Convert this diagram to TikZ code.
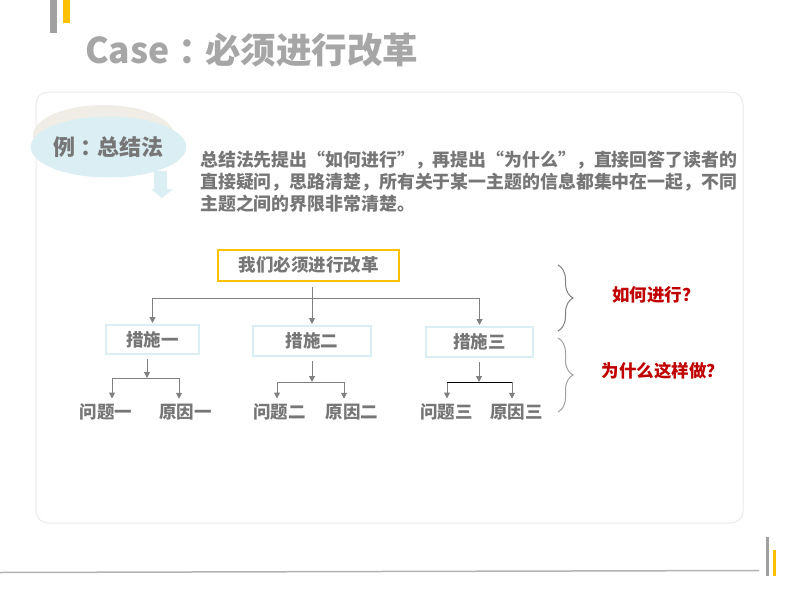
\documentclass[tikz,border=0pt]{standalone}
\usepackage{fontspec}
\setmainfont{Noto Sans CJK SC}
\usetikzlibrary{arrows.meta,shapes.geometric,decorations.pathreplacing,calc}
\definecolor{txtgray}{HTML}{767676}
\definecolor{titlegray}{HTML}{A6A6A6}
\definecolor{bargray}{HTML}{A0A0A0}
\definecolor{yel}{HTML}{FFC000}
\definecolor{lblue}{HTML}{DAEEF3}
\definecolor{boxblue}{HTML}{DAEEF3}
\definecolor{beige}{HTML}{EFEDE5}
\definecolor{panelline}{HTML}{EAEAEA}
\definecolor{lngray}{HTML}{808080}
\definecolor{darkred}{HTML}{C00000}
\begin{document}
\begin{tikzpicture}[x=1pt,y=-1pt,
  txt/.style={font=\bfseries\fontsize{17.5}{21}\selectfont, text=txtgray, inner sep=0pt},
  paratxt/.style={font=\bfseries\fontsize{17.9}{21}\selectfont, text=txtgray, inner sep=0pt, anchor=base west},
  mbox/.style={txt, draw=boxblue, line width=2pt, minimum height=29pt},
  conn/.style={draw=lngray, line width=1pt},
  arr/.style={conn, -{Triangle[length=6pt,width=6pt]}},
  redtxt/.style={font=\bfseries\fontsize{17.5}{21}\selectfont, text=darkred, inner sep=0pt},
  bracestyle/.style={decorate, decoration={brace, amplitude=15pt}, line width=1pt}
]
\useasboundingbox (0,0) rectangle (798,594);
% top-left bars
\fill[bargray] (50,0) rectangle (57,33);
\fill[yel] (63,0) rectangle (70,23);
% title
\node[anchor=west, inner sep=0pt, font=\bfseries\fontsize{35.5}{40}\selectfont, text=titlegray] (title) at (85,50) {Case\kern9pt：\kern-9pt必须进行改革};
% panel
\draw[panelline, line width=1pt, rounded corners=12pt] (36,92) rectangle (743,523);
% ellipse label
\node[ellipse, fill=beige, minimum width=141pt, minimum height=61pt, inner sep=0pt] (esh) at (103.5,135.5) {};
\node[ellipse, fill=lblue, minimum width=141pt, minimum height=61pt, inner sep=0pt, font=\bfseries\fontsize{22}{24}\selectfont, text=txtgray] (eb) at (108.5,147) {例\kern5pt：\kern-5pt总结法};
\fill[lblue] (154,171) -- (167,171) -- (167,189) -- (173,189) -- (162,198) -- (151,189) -- (154,189) -- cycle;
% paragraph
\node[paratxt] (para1) at (200,166.5) {总结法先提出“如何进行”，再提出“为什么”，直接回答了读者的};
\node[paratxt] (para2) at (200,188.5) {直接疑问，思路清楚，所有关于某一主题的信息都集中在一起，不同};
\node[paratxt] (para3) at (200,210) {主题之间的界限非常清楚。};
% tree
\node[txt, draw=yel, line width=2pt, minimum width=181pt, minimum height=31pt] (top) at (308.5,265) {我们必须进行改革};
\node[mbox, minimum width=93pt] (m1) at (152.5,339.5) {措施一};
\node[mbox, minimum width=118pt, minimum height=30pt] (m2) at (312,341) {措施二};
\node[mbox, minimum width=107pt, minimum height=30pt] (m3) at (479.5,342) {措施三};
\node[txt] (q1) at (106,412) {问题一};
\node[txt] (r1) at (185.5,412) {原因一};
\node[txt] (q2) at (279.5,412) {问题二};
\node[txt] (r2) at (352,412) {原因二};
\node[txt] (q3) at (446.5,412) {问题三};
\node[txt] (r3) at (516.5,412) {原因三};
\coordinate (j0) at (312,298);
\coordinate (j1) at (147,378);
\coordinate (j2) at (312,382);
\coordinate (j3) at (479,382);
\coordinate (q1a) at ($(q1.north)+(6,-5)$);
\coordinate (r1a) at ($(r1.north)+(-6.5,-5)$);
\coordinate (q2a) at ($(q2.north)+(-2.5,-5)$);
\coordinate (r2a) at ($(r2.north)+(-8,-5)$);
\coordinate (q3a) at ($(q3.north)+(0.5,-5)$);
\coordinate (r3a) at ($(r3.north)+(-4.5,-5)$);
\draw[conn] ($(j0 |- top.south)+(0,5)$) -- (j0);
\draw[arr, shorten >=1pt] (j0) -| (m1);
\draw[arr, shorten >=1pt] (j0) -| (m2);
\draw[arr, shorten >=1pt] (j0) -| (m3);
\draw[arr] ($(j1 |- m1.south)+(0,4)$) -- (j1);
\draw[arr] ($(j2 |- m2.south)+(0,4)$) -- (j2);
\draw[arr] ($(j3 |- m3.south)+(0,4)$) -- (j3);
\draw[arr] (j1) -| (q1a);
\draw[arr] (j1) -| (r1a);
\draw[arr] (j2) -| (q2a);
\draw[arr] (j2) -| (r2a);
\draw[arr] (j3) -| (q3a);
\draw[arr] (j3) -| (r3a);
\draw[black, line width=1pt] (q3a |- j3) -- (r3a |- j3);
% braces
\coordinate (b1t) at (558,265);
\coordinate (b1b) at (558,331);
\coordinate (b2t) at (558,338);
\coordinate (b2b) at (558,412);
\draw[bracestyle, draw=lngray] (b1t) -- (b1b);
\draw[bracestyle, draw=bargray] (b2t) -- (b2b);
\node[redtxt] (why1) at (656,295) {如何进行？};
\node[redtxt] (why2) at (663,371) {为什么这样做？};
% bottom decoration
\draw[bargray!80, line width=1.5pt] (0,572.5) -- (759,570.5);
\fill[bargray] (766,537) rectangle (769,576);
\fill[yel] (773,550) rectangle (776,576);
\end{tikzpicture}
\end{document}
